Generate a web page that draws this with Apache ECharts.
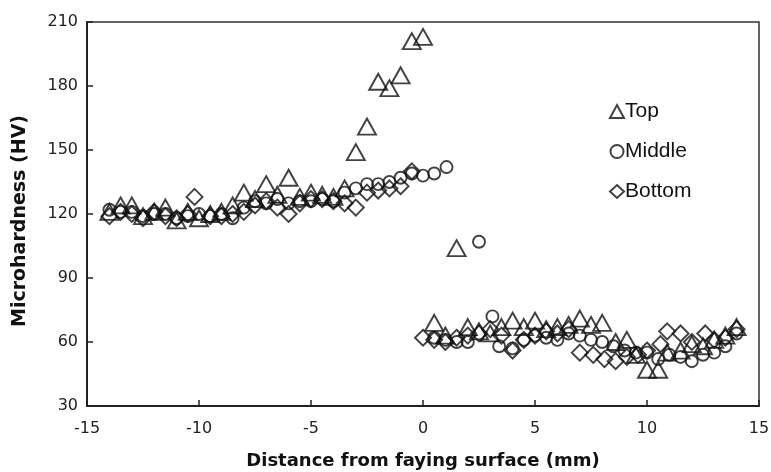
<!DOCTYPE html>
<html>
<head>
<meta charset="utf-8">
<script src="https://cdn.jsdelivr.net/npm/echarts@6/dist/echarts.min.js"></script>
<style>
  html, body { margin: 0; padding: 0; background: #fff; }
  #chart { width: 771px; height: 472px; }
</style>
</head>
<body>
<div id="chart"></div>
<script>
// distance from faying surface (mm) and microhardness (HV)
var topX = [-14, -13.5, -13, -12.5, -12, -11.5, -11, -10.5, -10, -9.5, -9, -8.5, -8, -7.5, -7, -6.5, -6, -5.5, -5, -4.5, -4, -3.5,
            -3, -2.5, -2, -1.5, -1, -0.5, 0, 0.5, 1, 1.5, 2, 2.5, 3, 3.5, 4, 4.5, 5, 5.5, 6, 6.5, 7, 7.5, 8, 8.6, 9.1, 9.5, 10, 10.5,
            10.9, 11.5, 12, 12.5, 13, 13.5, 14];
var topY = [121, 124, 124, 119, 121, 123, 117, 121, 118, 120, 121, 124, 130, 127, 134, 129, 137, 128, 130, 129, 128, 132,
            149, 161, 182, 179, 185, 201, 203, 69, 63, 104, 67, 65, 64, 67, 70, 67, 70, 66, 67, 68, 71, 68, 69, 60, 61, 54, 47, 47,
            55, 56, 59, 58, 61, 63, 67];

var midX = [-14, -13.5, -13, -12.5, -12, -11.5, -11, -10.5, -10, -9.5, -9, -8.5, -8, -7.5, -7, -6.5, -6, -5.5, -5, -4.5, -4, -3.5,
            -3, -2.5, -2, -1.5, -1, -0.5, 0, 0.5, 1.05, 0.5, 1, 1.5, 2, 2.5, 3.1, 3.4, 4, 4.5, 5, 5.5, 6, 6.5, 7, 7.5, 8, 8.5, 9,
            9.5, 10, 10.5, 11, 11.5, 12, 12.5, 13, 13.5, 14];
var midY = [122, 121, 121, 119, 120, 120, 118, 119, 120, 119, 120, 118, 123, 126, 125, 127, 125, 126, 126, 127, 126, 130,
            132, 134, 134, 135, 137, 139, 138, 139, 142, 62, 61, 60, 60, 107, 72, 58, 57, 61, 63, 62, 61, 64, 63, 61, 60, 58, 56,
            55, 55, 52, 54, 53, 51, 54, 55, 58, 64];

var botX = [-14, -13.5, -13, -12.5, -12, -11.5, -11, -10.5, -10.2, -9.5, -9, -8.5, -8, -7.5, -7, -6.5, -6, -5.5, -5, -4.5, -4,
            -3.5, -3, -2.5, -2, -1.5, -1, -0.5, 0, 0.5, 1, 1.5, 2, 2.5, 3, 3.5, 4, 4.5, 5, 5.5, 6, 6.5, 7, 7.6, 8.1, 8.6, 9.1,
            9.6, 10, 10.6, 10.9, 11.5, 12, 12.6, 13, 13.5, 14];
var botY = [119, 121, 120, 118, 121, 119, 118, 120, 128, 119, 119, 120, 121, 124, 126, 123, 120, 125, 127, 127, 126,
            125, 123, 130, 131, 132, 133, 140, 62, 61, 60, 62, 63, 64, 66, 63, 56, 61, 63, 65, 64, 66, 55, 54, 52, 51, 53,
            54, 56, 59, 65, 64, 60, 64, 61, 62, 66];

var xTicks = [-15, 15, 5];   // min, max, step
var yTicks = [30, 210, 30];

function pairs(xs, ys) {
    var out = [];
    for (var i = 0; i < xs.length; i++) out.push([xs[i], ys[i]]);
    return out;
}

var chart = echarts.init(document.getElementById('chart'));

var hollow = { color: 'rgba(255,255,255,0)', borderColor: '#111', borderWidth: 1.9 };

chart.setOption({
    animation: false,
    backgroundColor: '#fff',
    grid: { left: 87, top: 22, right: 12, bottom: 66, outerBoundsMode: 'none', show: true, borderColor: '#333', borderWidth: 1.5 },
    legend: {
        orient: 'vertical',
        left: 604,
        top: 95,
        itemGap: 17,
        itemWidth: 14,
        itemHeight: 13,
        textStyle: { fontFamily: 'Liberation Sans', fontSize: 21, lineHeight: 23, color: '#111', padding: [0, 0, 0, -4] },
        data: ['Top', 'Middle', 'Bottom']
    },
    xAxis: {
        type: 'value',
        min: xTicks[0], max: xTicks[1], interval: xTicks[2],
        name: 'Distance from faying surface (mm)',
        nameLocation: 'middle',
        nameGap: 46,
        nameTextStyle: { fontFamily: 'DejaVu Sans', fontWeight: 'bold', fontSize: 18, color: '#111' },
        axisLine: { onZero: false, lineStyle: { color: '#222', width: 2 } },
        axisTick: { inside: true, length: 6, lineStyle: { color: '#222', width: 1.5 } },
        axisLabel: { fontFamily: 'DejaVu Sans', fontSize: 16, color: '#222', margin: 15 },
        splitLine: { show: false }
    },
    yAxis: {
        type: 'value',
        min: yTicks[0], max: yTicks[1], interval: yTicks[2],
        name: 'Microhardness (HV)',
        nameLocation: 'middle',
        nameGap: 57,
        nameTextStyle: { fontFamily: 'DejaVu Sans', fontWeight: 'bold', fontSize: 19, color: '#111', padding: [0, 14, 0, 0] },
        axisLine: { onZero: false, lineStyle: { color: '#222', width: 2 } },
        axisTick: { inside: true, length: 6, lineStyle: { color: '#222', width: 1.5 } },
        axisLabel: { fontFamily: 'DejaVu Sans', fontSize: 16, color: '#222', margin: 9 },
        splitLine: { show: false }
    },
    series: [
        { name: 'Top', type: 'scatter', symbol: 'triangle', symbolSize: [18, 16], itemStyle: hollow, data: pairs(topX, topY) },
        { name: 'Middle', type: 'scatter', symbol: 'circle', symbolSize: 12, itemStyle: hollow, data: pairs(midX, midY) },
        { name: 'Bottom', type: 'scatter', symbol: 'diamond', symbolSize: [16, 16], itemStyle: hollow, data: pairs(botX, botY) }
    ]
});
</script>
</body>
</html>
